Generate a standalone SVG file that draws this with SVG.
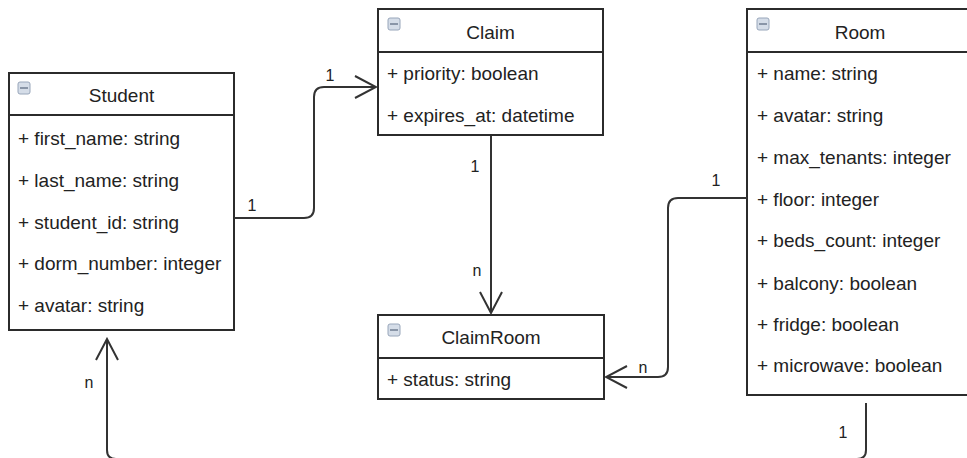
<svg xmlns="http://www.w3.org/2000/svg" width="967" height="458" viewBox="0 0 967 458">
<style>
.box{fill:#fff;stroke:#2b2b2b;stroke-width:2}
.div{stroke:#2b2b2b;stroke-width:2}
.t{font-family:"Liberation Sans",Arial,sans-serif;font-size:19px;fill:#222;dominant-baseline:central}
.title{text-anchor:middle}
.lbl{font-family:"Liberation Sans",Arial,sans-serif;font-size:16px;fill:#222;text-anchor:middle;dominant-baseline:central}
.ico{fill:#d5dde8;stroke:#98a6ba;stroke-width:1}
.icol{stroke:#6f7d92;stroke-width:1.5}
.conn{fill:none;stroke:#333;stroke-width:2;marker-end:url(#open)}
</style>
<defs>
<marker id="open" viewBox="-23 -13 25 26" markerWidth="25" markerHeight="26" refX="0" refY="0" markerUnits="userSpaceOnUse" orient="auto">
<path d="M-21,-11 L0,0 L-21,11" fill="none" stroke="#333" stroke-width="2"/>
</marker>
</defs>
<rect width="967" height="458" fill="#fff"/>

<g id="Student">
<rect class="box" x="9" y="73" width="225" height="257"/>
<line class="div" x1="9" y1="115" x2="234" y2="115"/>
<rect class="ico" x="18" y="82" width="12" height="12" rx="2"/><line class="icol" x1="20" y1="88" x2="28" y2="88"/>
<text class="t title" x="121.5" y="95">Student</text>
<text class="t" x="18" y="138">+ first_name: string</text>
<text class="t" x="18" y="180">+ last_name: string</text>
<text class="t" x="18" y="222">+ student_id: string</text>
<text class="t" x="18" y="263">+ dorm_number: integer</text>
<text class="t" x="18" y="305">+ avatar: string</text>
</g>

<g id="Claim">
<rect class="box" x="378" y="9" width="225" height="126"/>
<line class="div" x1="378" y1="52" x2="603" y2="52"/>
<rect class="ico" x="388" y="18" width="12" height="12" rx="2"/><line class="icol" x1="390" y1="24" x2="398" y2="24"/>
<text class="t title" x="490.5" y="32">Claim</text>
<text class="t" x="387" y="73">+ priority: boolean</text>
<text class="t" x="387" y="115">+ expires_at: datetime</text>
</g>

<g id="Room">
<rect class="box" x="747" y="9" width="226" height="386"/>
<line class="div" x1="747" y1="52" x2="973" y2="52"/>
<rect class="ico" x="757" y="18" width="12" height="12" rx="2"/><line class="icol" x1="759" y1="24" x2="767" y2="24"/>
<text class="t title" x="860" y="32">Room</text>
<text class="t" x="757" y="73">+ name: string</text>
<text class="t" x="757" y="115">+ avatar: string</text>
<text class="t" x="757" y="157">+ max_tenants: integer</text>
<text class="t" x="757" y="199">+ floor: integer</text>
<text class="t" x="757" y="240">+ beds_count: integer</text>
<text class="t" x="757" y="283">+ balcony: boolean</text>
<text class="t" x="757" y="324">+ fridge: boolean</text>
<text class="t" x="757" y="365">+ microwave: boolean</text>
</g>

<g id="ClaimRoom">
<rect class="box" x="378" y="315" width="226" height="84"/>
<line class="div" x1="378" y1="358" x2="604" y2="358"/>
<rect class="ico" x="388" y="324" width="12" height="12" rx="2"/><line class="icol" x1="390" y1="330" x2="398" y2="330"/>
<text class="t title" x="491" y="337">ClaimRoom</text>
<text class="t" x="387" y="379">+ status: string</text>
</g>

<g id="connectors">
<path class="conn" d="M234,218 H304 Q314,218 314,208 V97 Q314,87 324,87 H376"/>
<path class="conn" d="M491,136 V313"/>
<path class="conn" d="M747,198 H678 Q668,198 668,208 V367 Q668,377 658,377 H606"/>
<path class="conn" d="M866,403 V450 Q866,459 857,459 H116 Q107,459 107,450 V339"/>
<text class="lbl" x="252" y="205">1</text>
<text class="lbl" x="330" y="75">1</text>
<text class="lbl" x="475" y="166">1</text>
<text class="lbl" x="477" y="270">n</text>
<text class="lbl" x="716" y="180">1</text>
<text class="lbl" x="643" y="367">n</text>
<text class="lbl" x="843" y="432">1</text>
<text class="lbl" x="89" y="382">n</text>
</g>
</svg>
